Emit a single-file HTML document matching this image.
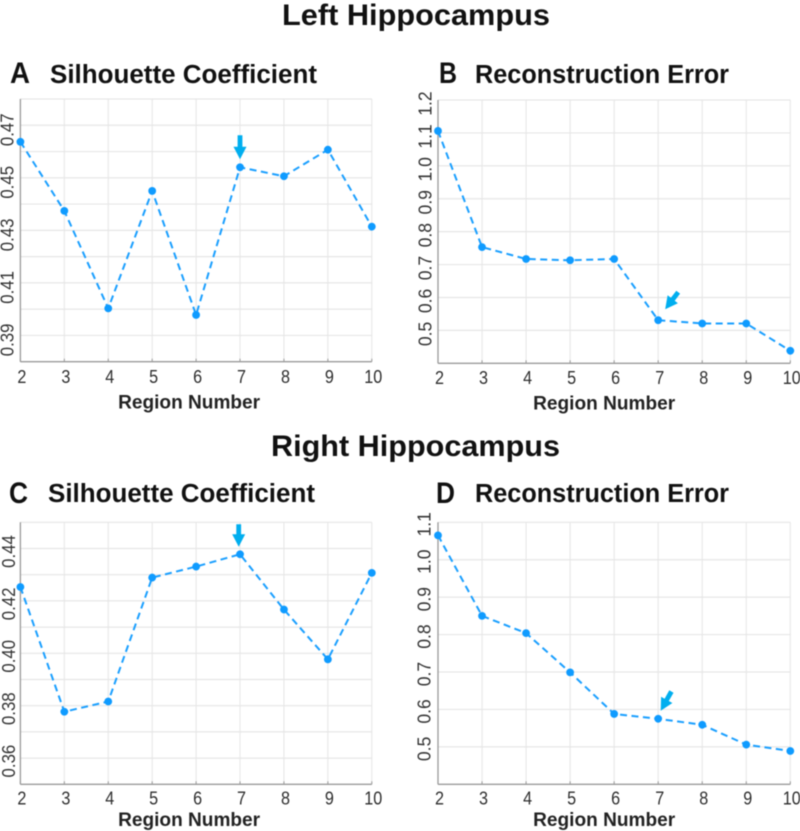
<!DOCTYPE html>
<html lang="en">
<head>
<meta charset="utf-8">
<title>Left and Right Hippocampus</title>
<style>
html,body{margin:0;padding:0;background:#fff;width:800px;height:831px;overflow:hidden}
svg{display:block;filter:blur(0.45px)}
text{font-family:"Liberation Sans",sans-serif}
.h{font-weight:bold;fill:#111}
</style>
</head>
<body>
<svg id="figure" xmlns="http://www.w3.org/2000/svg" width="800" height="831" viewBox="0 0 800 831">
<text class="h" x="282" y="25" font-size="30" textLength="268" lengthAdjust="spacingAndGlyphs">Left Hippocampus</text>
<text class="h" x="271" y="456" font-size="30" textLength="289" lengthAdjust="spacingAndGlyphs">Right Hippocampus</text>
<text class="h" x="10" y="83" font-size="30" textLength="20" lengthAdjust="spacingAndGlyphs">A</text>
<text class="h" x="50" y="83" font-size="25.5" textLength="267" lengthAdjust="spacingAndGlyphs">Silhouette Coefficient</text>
<text class="h" x="439" y="83" font-size="30" textLength="18" lengthAdjust="spacingAndGlyphs">B</text>
<text class="h" x="475" y="83" font-size="25.5" textLength="254" lengthAdjust="spacingAndGlyphs">Reconstruction Error</text>
<text class="h" x="9" y="503" font-size="30" textLength="19" lengthAdjust="spacingAndGlyphs">C</text>
<text class="h" x="48" y="502" font-size="25.5" textLength="267" lengthAdjust="spacingAndGlyphs">Silhouette Coefficient</text>
<text class="h" x="436" y="503" font-size="30" textLength="19" lengthAdjust="spacingAndGlyphs">D</text>
<text class="h" x="475" y="502" font-size="25.5" textLength="254" lengthAdjust="spacingAndGlyphs">Reconstruction Error</text>
</svg>
<script>
const regions = [2, 3, 4, 5, 6, 7, 8, 9, 10];

const silhouetteLeft = [0.4637, 0.4374, 0.4003, 0.445, 0.3978, 0.454, 0.4506, 0.4607, 0.4314];
const errorLeft = [1.106, 0.753, 0.717, 0.713, 0.717, 0.531, 0.521, 0.521, 0.438];
const silhouetteRight = [0.4253, 0.3777, 0.3816, 0.4289, 0.4331, 0.4378, 0.4167, 0.3977, 0.4307];
const errorRight = [1.065, 0.85, 0.804, 0.699, 0.588, 0.575, 0.559, 0.506, 0.489];

const gridLeftSil = [0.39, 0.40, 0.41, 0.42, 0.43, 0.44, 0.45, 0.46, 0.47];
const labelsLeftSil = ['0.39', '0.41', '0.43', '0.45', '0.47'];
const gridLeftErr = [0.5, 0.6, 0.7, 0.8, 0.9, 1.0, 1.1];
const labelsLeftErr = ['0.5', '0.6', '0.7', '0.8', '0.9', '1.0', '1.1', '1.2'];
const gridRightSil = [0.36, 0.37, 0.38, 0.39, 0.40, 0.41, 0.42, 0.43, 0.44];
const labelsRightSil = ['0.36', '0.38', '0.40', '0.42', '0.44'];
const gridRightErr = [0.5, 0.6, 0.7, 0.8, 0.9, 1.0];
const labelsRightErr = ['0.5', '0.6', '0.7', '0.8', '0.9', '1.0', '1.1'];

const highlightedRegion = 7;

const SVGNS = 'http://www.w3.org/2000/svg';
const root = document.getElementById('figure');

function make(tag, attrs, parent) {
  const node = document.createElementNS(SVGNS, tag);
  for (const k in attrs) node.setAttribute(k, attrs[k]);
  parent.appendChild(node);
  return node;
}

function drawPanel(cfg) {
  const xOf = v => cfg.left + (v - regions[0]) / (regions[regions.length - 1] - regions[0]) * (cfg.right - cfg.left);
  const yOf = v => cfg.bottom - (v - cfg.min) / (cfg.max - cfg.min) * (cfg.bottom - cfg.top);

  const group = make('g', {}, root);
  
  

  regions.forEach(r => {
    const line = make('line', {x1: xOf(r), x2: xOf(r), y1: cfg.top, y2: cfg.bottom, stroke: '#e9e9e9', 'stroke-width': 1.2}, group);
    
    
  });
  cfg.grid.concat([cfg.max]).forEach(v => {
    const line = make('line', {x1: cfg.left, x2: cfg.right, y1: yOf(v), y2: yOf(v), stroke: '#e6e6e6', 'stroke-width': 1.2}, group);
    
    
  });

  const xAxis = make('line', {x1: cfg.left, x2: cfg.right, y1: cfg.bottom, y2: cfg.bottom, stroke: '#9a9a9a', 'stroke-width': 1.3}, group);
  
  
  const yAxis = make('line', {x1: cfg.left, x2: cfg.left, y1: cfg.top, y2: cfg.bottom, stroke: '#9a9a9a', 'stroke-width': 1.3}, group);
  
  

  regions.forEach(r => {
    const tick = make('line', {x1: xOf(r), x2: xOf(r), y1: cfg.bottom, y2: cfg.bottom - 3, stroke: '#9a9a9a', 'stroke-width': 1}, group);
    
    
    const s = String(r);
    const label = make('text', {x: xOf(r) + 1.5, y: cfg.bottom + cfg.tickGap, 'text-anchor': 'middle', 'font-size': 18.5, fill: '#2e2e2e', textLength: s.length * 9, lengthAdjust: 'spacingAndGlyphs'}, group);
    
    
    label.textContent = s;
  });

  cfg.labels.forEach(s => {
    const y = yOf(parseFloat(s)) + cfg.labelShift;
    const label = make('text', {x: cfg.labelX, y: y, 'text-anchor': 'middle', 'font-size': 18.5, fill: '#333', textLength: s.length * 8.3 - 0.5, lengthAdjust: 'spacingAndGlyphs', transform: 'rotate(-90 ' + cfg.labelX + ' ' + y + ')'}, group);
    
    
    label.textContent = s;
  });

  const title = make('text', {x: (cfg.left + cfg.right) / 2 + cfg.xTitleShift, y: cfg.bottom + cfg.titleGap, 'text-anchor': 'middle', 'font-size': 19, 'font-weight': 'bold', fill: '#222', textLength: 142, lengthAdjust: 'spacingAndGlyphs'}, group);
  
  
  title.textContent = 'Region Number';

  const pts = regions.map((r, i) => xOf(r) + ',' + yOf(cfg.values[i])).join(' ');
  const series = make('polyline', {points: pts, fill: 'none', stroke: '#1a9fff', 'stroke-width': 2, 'stroke-dasharray': '7 4.5'}, group);
  
  

  regions.forEach((r, i) => {
    const dot = make('circle', {cx: xOf(r), cy: yOf(cfg.values[i]), r: 3.9, fill: '#0f9bff'}, group);
    
    
  });

  // Highlight arrow anchored to the marked region's point
  const hi = regions.indexOf(highlightedRegion);
  const tipX = xOf(highlightedRegion) + cfg.arrow.ox;
  const tipY = yOf(cfg.values[hi]) + cfg.arrow.oy;
  const len = Math.hypot(cfg.arrow.dx, cfg.arrow.dy);
  const ux = cfg.arrow.dx / len, uy = cfg.arrow.dy / len;
  const nx = -uy, ny = ux;
  const hl = 12.5, hw = 6.5, sw = 2.4;
  const p = (a, b) => (tipX + ux * a + nx * b).toFixed(1) + ',' + (tipY + uy * a + ny * b).toFixed(1);
  const arrow = make('polygon', {points: [p(0, 0), p(hl, hw), p(hl, sw), p(len, sw), p(len, -sw), p(hl, -sw), p(hl, -hw)].join(' '), fill: '#00aeef'}, group);
  
  
}

drawPanel({name: 'panel-a-silhouette-left', left: 20.4, right: 371.8, top: 99, bottom: 361.7, min: 0.38, max: 0.48,
  values: silhouetteLeft, grid: gridLeftSil, labels: labelsLeftSil, labelShift: 4.5, labelX: 13.5, xTitleShift: -7, tickGap: 21.5, titleGap: 47,
  arrow: {ox: 0, oy: -8, dx: 0, dy: -24}});
drawPanel({name: 'panel-b-error-left', left: 438, right: 790.3, top: 100, bottom: 363.3, min: 0.4, max: 1.2,
  values: errorLeft, grid: gridLeftErr, labels: labelsLeftErr, labelShift: 3.5, labelX: 431.5, xTitleShift: -10, tickGap: 20.5, titleGap: 46,
  arrow: {ox: 7, oy: -11, dx: 13, dy: -17}});
drawPanel({name: 'panel-c-silhouette-right', left: 20.4, right: 371.8, top: 522.3, bottom: 784.3, min: 0.35, max: 0.45,
  values: silhouetteRight, grid: gridRightSil, labels: labelsRightSil, labelShift: 3, labelX: 15, xTitleShift: -7, tickGap: 20, titleGap: 41.5,
  arrow: {ox: -1.3, oy: -7.6, dx: 0, dy: -22.4}});
drawPanel({name: 'panel-d-error-right', left: 438, right: 790.3, top: 522.3, bottom: 784.3, min: 0.4, max: 1.1,
  values: errorRight, grid: gridRightErr, labels: labelsRightErr, labelShift: 2, labelX: 430.5, xTitleShift: -10, tickGap: 20, titleGap: 41.5,
  arrow: {ox: 2.5, oy: -8, dx: 10.7, dy: -19.3}});
</script>
</body>
</html>
